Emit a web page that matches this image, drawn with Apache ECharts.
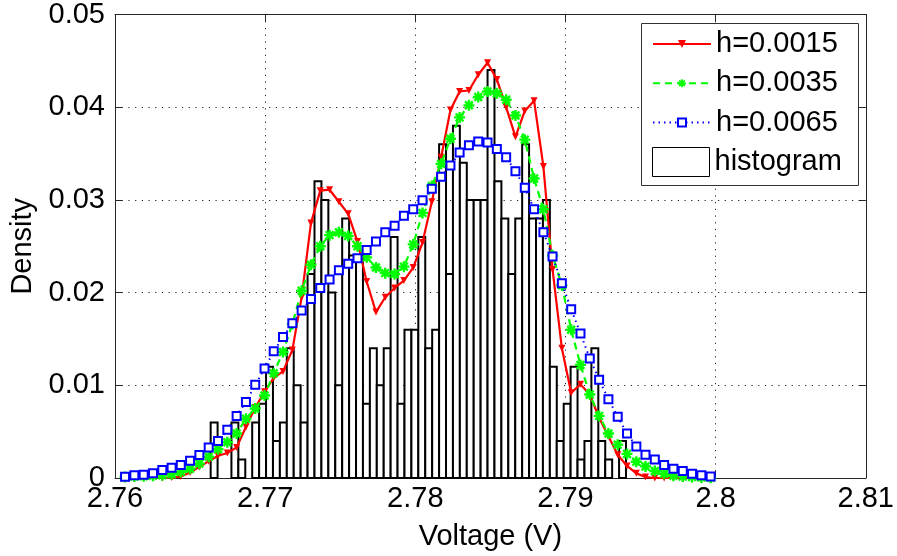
<!DOCTYPE html>
<html><head><meta charset="utf-8">
<script src="https://cdn.jsdelivr.net/npm/echarts@6/dist/echarts.min.js"></script>
<style>html,body{margin:0;padding:0;background:#fff}#c{width:897px;height:556px}</style>
</head><body><div id="c"></div>
<script>
// ---- data ----
const xTickLabels = ['2.76','2.77','2.78','2.79','2.8','2.81'];
const yTickLabels = ['0','0.01','0.02','0.03','0.04','0.05'];

// KDE evaluation grid (V)
const gridX = [2.76067,2.76129,2.76191,2.76253,2.76315,2.76377,2.76438,2.76500,2.76562,2.76624,
  2.76686,2.76748,2.76810,2.76872,2.76934,2.76996,2.77057,2.77119,2.77181,2.77243,
  2.77305,2.77367,2.77429,2.77491,2.77553,2.77615,2.77676,2.77738,2.77800,2.77862,
  2.77924,2.77986,2.78048,2.78110,2.78172,2.78234,2.78295,2.78357,2.78419,2.78481,
  2.78543,2.78605,2.78667,2.78729,2.78791,2.78853,2.78914,2.78976,2.79038,2.79100,
  2.79162,2.79224,2.79286,2.79348,2.79410,2.79472,2.79533,2.79595,2.79657,2.79719,
  2.79781,2.79843,2.79905,2.79967];

const densH0015 = [0,0,0,0,0,0.00005,0.00015,0.0006,0.0012,0.0018,
  0.0024,0.0027,0.0033,0.0055,0.0076,0.0093,0.0108,0.0115,0.0138,0.0195,
  0.0275,0.0310,0.0311,0.0298,0.0285,0.0255,0.0212,0.0179,0.0195,0.0205,
  0.0213,0.0227,0.0254,0.0298,0.0346,0.0397,0.0417,0.0418,0.0435,0.0448,
  0.0430,0.0400,0.0368,0.0396,0.0407,0.0336,0.0225,0.0140,0.0092,0.0101,
  0.0090,0.0065,0.0045,0.0025,0.0013,0.0005,0.0001,0,0,0,
  0,0,0,0];

const densH0035 = [0.0001,0.00015,0.0002,0.00025,0.0003,0.0004,0.00065,0.0010,0.00155,0.0023,
  0.0031,0.00385,0.0048,0.0064,0.0075,0.0089,0.0113,0.0136,0.0166,0.0202,
  0.0230,0.0250,0.0262,0.0265,0.0261,0.0250,0.0238,0.0227,0.0221,0.0220,
  0.0228,0.0252,0.0286,0.0315,0.0339,0.0366,0.0389,0.0402,0.0411,0.0417,
  0.0415,0.0408,0.0391,0.0365,0.0323,0.0290,0.0240,0.0208,0.0160,0.0122,
  0.0090,0.0067,0.0048,0.0036,0.0026,0.00175,0.00125,0.00075,0.00045,0.00025,
  0.00015,0.0001,0.00005,0.00002];

const densH0065 = [0.00014,0.0003,0.00035,0.0005,0.00086,0.0011,0.0014,0.00185,0.00247,0.00328,
  0.00398,0.0052,0.0067,0.0082,0.01005,0.0118,0.01366,0.0152,0.0167,0.01806,
  0.0193,0.0205,0.0214,0.0224,0.0231,0.0237,0.0246,0.0255,0.0265,0.0272,
  0.0283,0.0290,0.02996,0.0312,0.0325,0.0337,0.0351,0.0359,0.0363,0.0362,
  0.0355,0.0346,0.0331,0.0313,0.0290,0.0265,0.0239,0.0210,0.0182,0.0156,
  0.0129,0.0106,0.0085,0.0066,0.0048,0.0034,0.0025,0.0020,0.0014,0.0010,
  0.00075,0.00045,0.0003,0.00015];

// histogram: first bin left edge, bin width, bar heights (density)
const histStart = 2.766371;
const histBinWidth = 0.000461;
const histHeights = [0.006,0,0,0.006,0.002,0,0.006,0.008,0.012,0.004,
  0.006,0.014,0.010,0.006,0.022,0.032,0.030,0.020,0.010,0.028,
  0.024,0.024,0.008,0.014,0.010,0.014,0.026,0.008,0.016,0.016,
  0.026,0.014,0.016,0.036,0.022,0.038,0.034,0.030,0.030,0.030,
  0.044,0.032,0.028,0.022,0.028,0.036,0.028,0.028,0.030,0.012,
  0.004,0.008,0.012,0.002,0.004,0.014,0.004,0.002,0,0.004];

// ---- chart ----
const FONT = "'Liberation Sans', Arial, Helvetica, sans-serif";
const FS = 29;
const histData = histHeights.map((h, i) => [histStart + i * histBinWidth, histStart + (i + 1) * histBinWidth, h]).filter(d => d[2] > 0);
const pair = arr => gridX.map((x, i) => [x, arr[i]]);

const starPath = 'path://M-0.22,-1L0.22,-1L0.22,-0.22L1,-0.22L1,0.22L0.22,0.22L0.22,1L-0.22,1L-0.22,0.22L-1,0.22L-1,-0.22L-0.22,-0.22Z' +
  'M-0.55,-0.86L0.86,0.55L0.55,0.86L-0.86,-0.55Z' +
  'M-0.86,0.55L0.55,-0.86L0.86,-0.55L-0.55,0.86Z';

const axisColor = '#262626';
const chart = echarts.init(document.getElementById('c'), null, {renderer: 'canvas'});
chart.setOption({
  animation: false,
  backgroundColor: '#fff',
  textStyle: {fontFamily: FONT},
  grid: {left: 115, right: 31, top: 13, bottom: 78, containLabel: false},
  xAxis: [{
    type: 'value', min: 2.76, max: 2.81, interval: 0.01,
    name: 'Voltage (V)', nameLocation: 'middle', nameGap: 44,
    nameTextStyle: {fontSize: FS, color: '#000', fontFamily: FONT},
    axisLine: {show: true, onZero: false, lineStyle: {color: axisColor, width: 1}},
    axisTick: {show: true, inside: true, length: 7, lineStyle: {color: axisColor}},
    axisLabel: {fontSize: FS, color: '#000', fontFamily: FONT, margin: 6,
      formatter: (v, i) => xTickLabels[i]},
    splitLine: {show: true, lineStyle: {color: '#222', width: 1, type: [1.2, 5.5]}}
  }, {
    type: 'value', min: 2.76, max: 2.81, interval: 0.01, position: 'top',
    axisLine: {show: true, onZero: false, lineStyle: {color: axisColor, width: 1}},
    axisTick: {show: true, inside: true, length: 7, lineStyle: {color: axisColor}},
    axisLabel: {show: false}, splitLine: {show: false}
  }],
  yAxis: [{
    type: 'value', min: 0, max: 0.05, interval: 0.01,
    name: 'Density', nameLocation: 'middle', nameGap: 69, nameRotate: 90,
    nameTextStyle: {fontSize: FS, color: '#000', fontFamily: FONT},
    axisLine: {show: true, onZero: false, lineStyle: {color: axisColor, width: 1}},
    axisTick: {show: true, inside: true, length: 7, lineStyle: {color: axisColor}},
    axisLabel: {fontSize: FS, color: '#000', fontFamily: FONT, margin: 10,
      formatter: (v, i) => yTickLabels[i]},
    splitLine: {show: true, lineStyle: {color: '#222', width: 1, type: [1.2, 5.5]}}
  }, {
    type: 'value', min: 0, max: 0.05, interval: 0.01, position: 'right',
    axisLine: {show: true, onZero: false, lineStyle: {color: axisColor, width: 1}},
    axisTick: {show: true, inside: true, length: 7, lineStyle: {color: axisColor}},
    axisLabel: {show: false}, splitLine: {show: false}
  }],
  graphic: [{
    type: 'rect', left: 641, top: 23, z: 10,
    shape: {width: 217, height: 162},
    style: {fill: '#fff', stroke: '#333', lineWidth: 1}
  }],
  legend: [{
    z: 20, orient: 'vertical', left: 652, top: 29, padding: 0,
    itemWidth: 58, itemHeight: 10, itemGap: 9.3, selectedMode: false,
    textStyle: {fontSize: FS, color: '#000', fontFamily: FONT, lineHeight: 30, padding: [0,0,0,0]},
    data: ['h=0.0015', 'h=0.0035', 'h=0.0065']
  }, {
    z: 20, orient: 'vertical', left: 652, top: 147, padding: 0,
    itemWidth: 57, itemHeight: 29, selectedMode: false,
    textStyle: {fontSize: FS, color: '#000', fontFamily: FONT, lineHeight: 30},
    data: [{name: 'histogram', icon: 'rect', itemStyle: {color: '#fff', borderColor: '#000', borderWidth: 1}}]
  }],
  series: [{
    name: 'histogram', type: 'custom', xAxisIndex: 0, yAxisIndex: 0,
    data: histData, encode: {x: [0, 1], y: 2}, z: 2, silent: true,
    itemStyle: {color: '#fff', borderColor: '#000', borderWidth: 1},
    renderItem: (params, api) => {
      const a = api.coord([api.value(0), api.value(2)]);
      const b = api.coord([api.value(1), 0]);
      return {type: 'rect', shape: {x: a[0], y: a[1], width: b[0] - a[0], height: b[1] - a[1]},
        style: {fill: '#fff', stroke: '#000', lineWidth: 2}};
    }
  }, {
    name: 'h=0.0015', type: 'line', data: pair(densH0015), z: 3,
    symbol: 'triangle', symbolRotate: 180, symbolSize: 7, showSymbol: true, showAllSymbol: true,
    lineStyle: {color: '#ff0000', width: 2.2}, itemStyle: {color: '#ff0000'}
  }, {
    name: 'h=0.0035', type: 'line', data: pair(densH0035), z: 4,
    symbol: starPath, symbolSize: 11, showSymbol: true, showAllSymbol: true,
    lineStyle: {color: '#00ff00', width: 2.2, type: [7, 5]}, itemStyle: {color: '#00ff00'}
  }, {
    name: 'h=0.0065', type: 'line', data: pair(densH0065), z: 5,
    symbol: 'emptyRect', symbolSize: 8, showSymbol: true, showAllSymbol: true,
    lineStyle: {color: '#0000ff', width: 2, type: [1.5, 4]}, itemStyle: {color: '#0000ff', borderWidth: 2}
  }]
});
</script>
</body></html>
